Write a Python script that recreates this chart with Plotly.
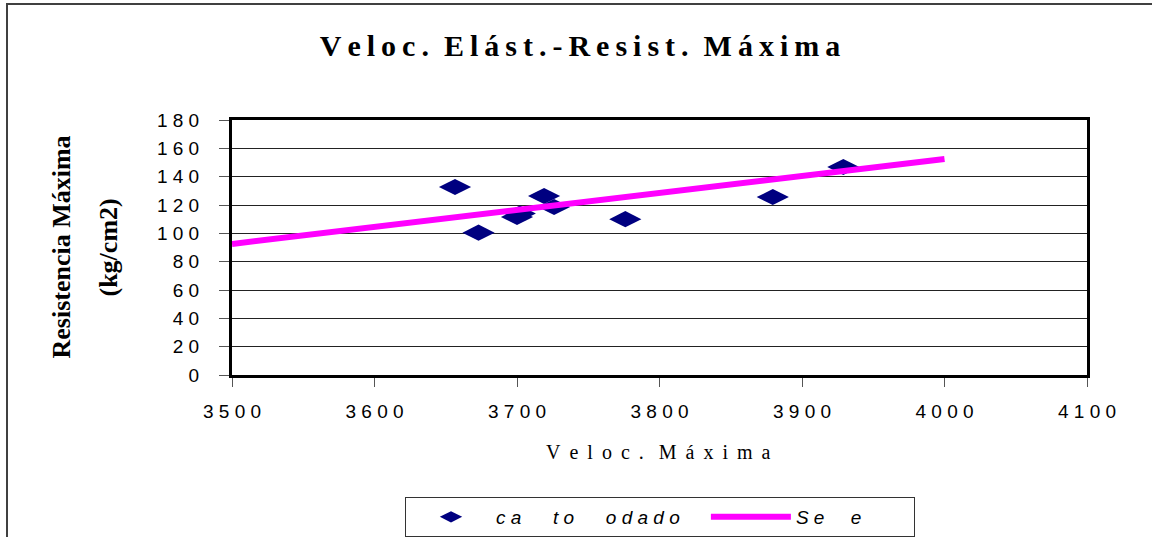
import plotly.graph_objects as go

# ---- data ----
veloc = [3656.5, 3673, 3700, 3702, 3719, 3726, 3776, 3879.5, 3929]
resist = [132.7, 100.5, 111.5, 114, 126.4, 118.6, 110, 125.6, 146.8]
trend_x = [3500, 4000]
trend_y = [92.5, 152.5]
x_ticks = [3500, 3600, 3700, 3800, 3900, 4000, 4100]
y_ticks = [0, 20, 40, 60, 80, 100, 120, 140, 160, 180]

TS = "\u2009"  # thin space
NB = "\u00a0"  # no-break space


def spaced(s, sep):
    return sep.join(list(s))


title_txt = (spaced("Veloc.", TS) + NB + NB + spaced("Elást.-Resist.", TS)
             + NB + NB + spaced("Máxima", TS))
xtitle_txt = spaced("Veloc.", NB + TS) + NB + NB + NB + spaced("Máxima", NB + TS)
leg1 = spaced("ca", NB) + NB * 6 + spaced("to", NB) + NB * 6 + spaced("odado", NB) + NB * 4
leg2 = spaced("Se", NB) + NB * 5 + "e" + NB * 9

fig = go.Figure()
fig.add_trace(go.Scatter(
    x=veloc, y=resist, mode="markers", name=leg1,
    marker=dict(symbol="diamond-wide", size=23, color="#000080",
                line=dict(width=0)),
))
fig.add_trace(go.Scatter(
    x=trend_x, y=trend_y, mode="lines", name=leg2,
    line=dict(color="#FF00FF", width=6),
))

serif = "Liberation Serif"
sans = "Liberation Sans"

PL, PR, PT, PB = 232, 1087, 120, 375
W, H = 1152, 537

fig.update_layout(
    width=W, height=H,
    margin=dict(l=PL, r=W - PR, t=PT, b=H - PB, autoexpand=False),
    paper_bgcolor="white", plot_bgcolor="white",
    title=dict(text="<b>" + title_txt + "</b>", x=580 / W, xanchor="center",
               xref="container", y=1 - 45 / H, yanchor="middle",
               font=dict(family=serif, size=30, color="black")),
    font=dict(family=sans, color="black"),
    showlegend=True,
    legend=dict(orientation="h", x=(405 - 232) / 855, xanchor="left",
                y=(375 - 497) / 255, yanchor="top",
                bordercolor="#333333", borderwidth=1, bgcolor="white",
                font=dict(family=sans, size=19, style="italic", color="black"),
                itemwidth=80),
    shapes=[dict(type="rect", xref="paper", yref="paper",
                 x0=(7 - 232) / 855, x1=1.5, y0=-0.8, y1=(375 - 4) / 255,
                 line=dict(color="#404040", width=2), layer="below")],
    annotations=[
        dict(text="<b>Resistencia Máxima</b>", xref="paper", yref="paper",
             x=(61 - 232) / 855, y=0.5, xanchor="center", yanchor="middle",
             textangle=-90, showarrow=False,
             font=dict(family=serif, size=26, color="black")),
        dict(text="<b>(kg/cm2)</b>", xref="paper", yref="paper",
             x=(108 - 232) / 855, y=0.5, xanchor="center", yanchor="middle",
             textangle=-90, showarrow=False,
             font=dict(family=serif, size=26, color="black")),
        dict(text=xtitle_txt, xref="paper", yref="paper",
             x=(658 - 232) / 855, y=(375 - 452) / 255, xanchor="center", yanchor="middle",
             showarrow=False,
             font=dict(family=serif, size=20, color="black")),
    ],
)

fig.update_xaxes(
    range=[3500, 4100], tickvals=x_ticks,
    ticktext=[spaced(str(v), NB) for v in x_ticks],
    showgrid=False, zeroline=False, automargin=False,
    showline=True, mirror=True, linecolor="black", linewidth=3,
    ticks="outside", ticklen=9, tickcolor="#555555", tickwidth=1,
    ticklabelstandoff=8,
    tickfont=dict(family=sans, size=19, color="black"),
)
fig.update_yaxes(
    range=[0, 180], tickvals=y_ticks,
    ticktext=[spaced(str(v), NB) for v in y_ticks],
    showgrid=True, gridcolor="#222222", gridwidth=1, zeroline=False, automargin=False,
    showline=True, mirror=True, linecolor="black", linewidth=3,
    ticks="outside", ticklen=10, tickcolor="#555555", tickwidth=1,
    ticklabelstandoff=16,
    tickfont=dict(family=sans, size=19, color="black"),
)

fig.write_html("out.html", config={"displayModeBar": False},
               post_script="document.body.style.margin='0px';document.body.style.overflow='hidden';")
